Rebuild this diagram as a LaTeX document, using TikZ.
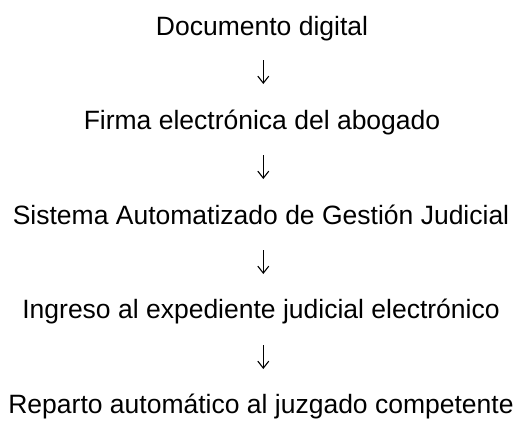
\documentclass[tikz,border=0pt]{standalone}
\usepackage{fontspec}
\setmainfont{Liberation Sans}
\usetikzlibrary{arrows.meta}
\begin{document}
\begin{tikzpicture}[x=1bp,y=-1bp,
  steptext/.style={anchor=base,inner sep=0pt,font=\fontsize{26.6pt}{30pt}\selectfont},
  flowarrow/.style={line width=1.1bp,-{Straight Barb[length=7bp,width=11bp,line width=1.1bp]}}]
\useasboundingbox (0,0) rectangle (520,423);
\node[steptext] (s1) at (262,35) {Documento digital};
\node[steptext] (s2) at (262,129.6) {Firma electrónica del abogado};
\node[steptext] (s3) at (261,224.2) {Sistema Automatizado de Gestión Judicial};
\node[steptext] (s4) at (261,318.8) {Ingreso al expediente judicial electrónico};
\node[steptext] (s5) at (261,413.4) {Reparto automático al juzgado competente};
\foreach \k in {1,...,4}{
  \coordinate (t\k) at (263.3,{60+95*(\k-1)});
  \coordinate (b\k) at (263.3,{84+95*(\k-1)});
}
\draw[flowarrow] (t1) -- (b1);
\draw[flowarrow] (t2) -- (b2);
\draw[flowarrow] (t3) -- (b3);
\draw[flowarrow] (t4) -- (b4);
\end{tikzpicture}
\end{document}
